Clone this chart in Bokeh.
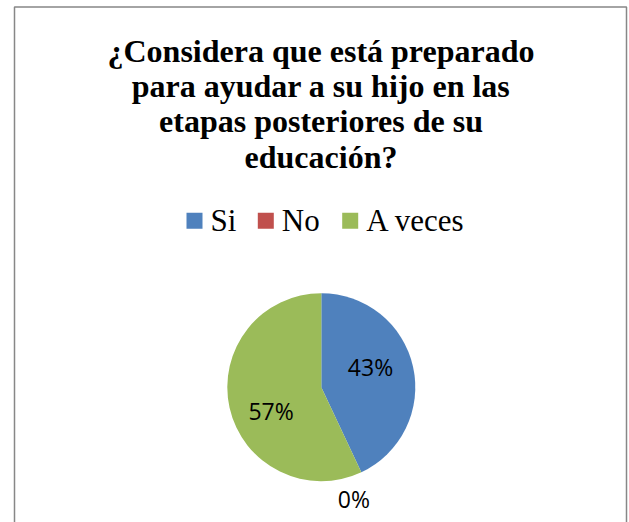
import math
from bokeh.plotting import figure
from bokeh.models import Range1d, ColumnDataSource
from bokeh.core.properties import value
from bokeh.embed import file_html
from bokeh.resources import INLINE

# ---- data ----
title_lines = ["¿Considera que está preparado",
               "para ayudar a su hijo en las",
               "etapas posteriores de su",
               "educación?"]
categories = ["Si", "No", "A veces"]
values = [43, 0, 57]
colors = ["#4F81BD", "#C0504D", "#9BBB59"]

# ---- layout (page pixel coordinates) ----
W, H = 629, 522
PCX, PCY, R = 320.8, 386.7, 94
title_x, title_y0, title_dy = 320.5, 50.2, 35.3
legend_left = [186, 257.3, 341.7]
legend_y, legend_sq, legend_text_y = 220.3, 16, 219.5
label_k = [0.58, 1.24, 0.58]
label_nudge = [(-4, -8), (-17, 6), (3, 12)]

p = figure(width=W, height=H, x_range=Range1d(0, W), y_range=Range1d(H, 0),
           output_backend="svg", toolbar_location=None,
           x_axis_type=None, y_axis_type=None, min_border=0)
p.grid.visible = False
p.outline_line_color = None
p.background_fill_color = "white"
p.border_fill_color = "white"

# chart area border (bottom edge is cut off in the reference)
p.line(x=[14, 14, 626, 626], y=[700, 6.5, 6.5, 700], line_color="#878787", line_width=1.5)

# title
p.text(x=[title_x] * len(title_lines),
       y=[title_y0 + i * title_dy for i in range(len(title_lines))],
       text=title_lines, text_font=value("Times New Roman"), text_font_style="bold",
       text_font_size="32px", text_align="center", text_baseline="middle",
       text_color="black")

# legend
p.rect(x=[l + legend_sq / 2 for l in legend_left], y=[legend_y] * 3,
       width=legend_sq, height=legend_sq, fill_color=colors, line_color=None)
p.text(x=[l + legend_sq + 8 for l in legend_left], y=[legend_text_y] * 3, text=categories,
       text_font=value("Times New Roman"), text_font_size="31px",
       text_align="left", text_baseline="middle", text_color="black")

# pie
total = sum(values)
fr = [v / total for v in values]
starts, ends, mids = [], [], []
c = 0.0
for f in fr:
    starts.append(math.pi / 2 - 2 * math.pi * c)
    mids.append(2 * math.pi * (c + f / 2))
    c += f
    ends.append(math.pi / 2 - 2 * math.pi * c)

keep = [i for i, v in enumerate(values) if v > 0]
src = ColumnDataSource(dict(cat=[categories[i] for i in keep],
                            val=[values[i] for i in keep],
                            color=[colors[i] for i in keep],
                            start=[starts[i] for i in keep],
                            end=[ends[i] for i in keep]))
p.wedge(x=PCX, y=PCY, radius=R, start_angle="start", end_angle="end", direction="clock",
        fill_color="color", line_color=None, source=src)

# data labels
lx, ly, lt = [], [], []
for i, f in enumerate(fr):
    th = mids[i]
    lx.append(PCX + label_k[i] * R * math.sin(th) + label_nudge[i][0])
    ly.append(PCY - label_k[i] * R * math.cos(th) + label_nudge[i][1])
    lt.append(f"{round(f * 100)}%")
p.text(x=lx, y=ly, text=lt, text_font=value("Open Sans"), text_font_size="23px",
       text_align="center", text_baseline="middle", text_color="black")

open("out.html", "w").write(file_html(p, INLINE))
